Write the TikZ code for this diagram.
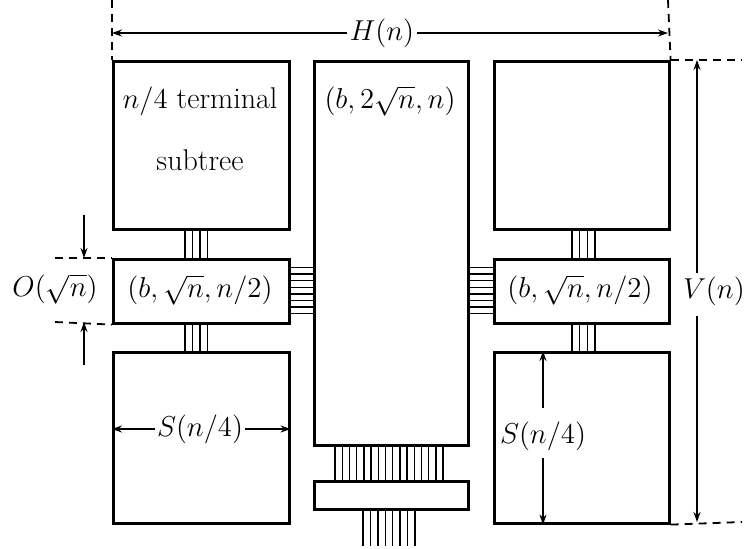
\documentclass[tikz,border=0pt]{standalone}
\usetikzlibrary{arrows.meta,calc}
\begin{document}
\begin{tikzpicture}[x=0.5pt,y=-0.5pt,
  box/.style={draw,line width=1.3pt,inner sep=0pt,anchor=north west},
  wire/.style={line width=0.7pt},
  dimline/.style={line width=0.9pt},
  arr/.style={-{Stealth[length=5pt,width=3.5pt]}},
  dimdash/.style={line width=0.9pt,dash pattern=on 4pt off 3pt},
  lbl/.style={font=\fontsize{15}{18}\selectfont,inner sep=1pt}]
\useasboundingbox (0,0) rectangle (745,548);
\newcommand\boxat[5]{\node[box,minimum width={(#4-#2)*0.5pt},minimum height={(#5-#3)*0.5pt}] (#1) at (#2,#3) {};}
% boxes
\boxat{tl}{112}{60}{288}{228}
\boxat{ml}{112}{258}{288}{322}
\boxat{bl}{112}{351}{288}{522}
\boxat{c}{313}{60}{467}{444}
\boxat{cs}{313}{480}{467}{508}
\boxat{tr}{493}{60}{668}{228}
\boxat{mr}{493}{258}{668}{322}
\boxat{br}{493}{351}{668}{522}
% texts
\node[lbl] (t1) at (200,101) {$n/4$ terminal};
\node[lbl] (t2) at (200,160) {subtree};
\node[lbl] (t3) at (390,101) {$(b,2\sqrt{n},n)$};
\node[lbl] (t4) at (200,290) {$(b,\sqrt{n},n/2)$};
\node[lbl] (t5) at (580,290) {$(b,\sqrt{n},n/2)$};
% wires
\foreach \x in {185,192.5,200,207.5}{
  \draw[wire] (\x,0 |- tl.south) -- (\x,0 |- ml.north);
  \draw[wire] (\x,0 |- ml.south) -- (\x,0 |- bl.north);}
\foreach \x in {572,579.7,587.3,595}{
  \draw[wire] (\x,0 |- tr.south) -- (\x,0 |- mr.north);
  \draw[wire] (\x,0 |- mr.south) -- (\x,0 |- br.north);}
\foreach \i in {0,...,7}{
  \draw[wire] (ml.east |- 0,267.5+6.6*\i) -- (c.west |- 0,267.5+6.6*\i);
  \draw[wire] (c.east |- 0,267.5+6.6*\i) -- (mr.west |- 0,267.5+6.6*\i);}
\foreach \i in {0,...,15}{
  \draw[wire] (335+7.2*\i,0 |- c.south) -- (335+7.2*\i,0 |- cs.north);}
\coordinate (bot) at (0,546);
\foreach \i in {0,...,7}{
  \draw[wire] (363+7.43*\i,0 |- cs.south) -- (363+7.43*\i,0 |- bot);}
% H(n)
\coordinate (h0) at (112,0);
\coordinate (h1) at (668,0);
\draw[dimdash] (h0) -- (tl.north west);
\draw[dimdash] (h1) -- (tr.north east);
\node[lbl] (H) at (382,33) {$H(n)$};
\draw[dimline,arr] (H.west) -- (112,33);
\draw[dimline,arr] (H.east) -- (668,33);
% V(n)
\coordinate (v0) at (742,60);
\coordinate (v1) at (742,522);
\draw[dimdash] (tr.north east) -- (v0);
\draw[dimdash] (br.south east) -- (v1);
\node[lbl] (V) at (714,291) {$V(n)$};
\coordinate (va) at (697,273);
\coordinate (vb) at (697,316);
\draw[dimline,arr] (va) -- (697,60);
\draw[dimline,arr] (vb) -- (697,522);
% O(sqrt n)
\coordinate (o0) at (55,258);
\coordinate (o1) at (55,322);
\draw[dimdash] (o0) -- (ml.north west);
\draw[dimdash] (o1) -- (ml.south west);
\node[lbl] (O) at (55,289) {$O(\sqrt{n})$};
\coordinate (oa) at (84,215);
\coordinate (ob) at (84,365);
\draw[dimline,arr] (oa) -- (84,258);
\draw[dimline,arr] (ob) -- (84,322);
% S(n/4) left
\node[lbl] (SL) at (200,429) {$S(n/4)$};
\draw[dimline,arr] (SL.west) -- (bl.west |- SL.west);
\draw[dimline,arr] (SL.east) -- (bl.east |- SL.east);
% S(n/4) right
\node[lbl] (SR) at (543,436) {$S(n/4)$};
\draw[dimline,arr] (543,408) -- (543,0 |- br.north);
\draw[dimline,arr] (543,458) -- (543,0 |- br.south);
\end{tikzpicture}
\end{document}
